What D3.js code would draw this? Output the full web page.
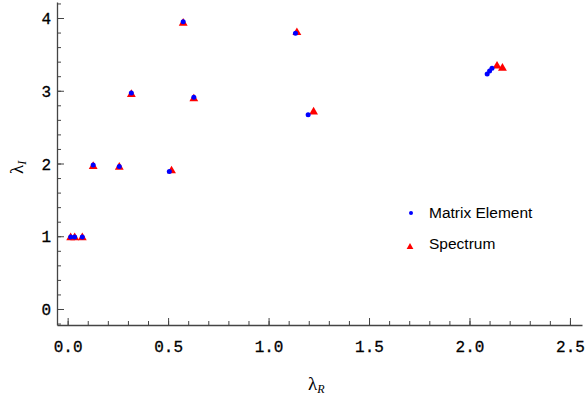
<!DOCTYPE html>
<html>
<head>
<meta charset="utf-8">
<script src="https://cdn.jsdelivr.net/npm/d3@7"></script>
<style>
  body { margin: 0; background: #fff; }
  svg { display: block; }
</style>
</head>
<body>
<svg id="chart" width="588" height="397"></svg>
<script>
// Matrix Element points (blue)
const matrixR = [0.015, 0.035, 0.073, 0.127, 0.257, 0.506, 0.317, 0.628, 0.575, 1.134, 1.197, 2.088, 2.100, 2.112];
const matrixI = [0.99, 0.99, 0.99, 1.98, 1.96, 1.89, 2.97, 2.91, 3.95, 3.79, 2.67, 3.23, 3.27, 3.31];
// Spectrum points (red)
const spectrumR = [0.015, 0.035, 0.073, 0.127, 0.257, 0.517, 0.317, 0.628, 0.575, 1.141, 1.224, 2.137, 2.164];
const spectrumI = [0.98, 0.98, 0.98, 1.96, 1.95, 1.90, 2.95, 2.89, 3.93, 3.80, 2.71, 3.34, 3.31];

const xTicks = [0, 0.5, 1.0, 1.5, 2.0, 2.5];
const yTicks = [0, 1, 2, 3, 4];
const legendLabels = ['Matrix Element', 'Spectrum'];

const svg = d3.select('#chart');
const axisColor = '#444';

const x = d3.scaleLinear().domain([-0.053, 2.56]).range([57, 582]);
const y = d3.scaleLinear().domain([-0.22, 4.22]).range([325, 2]);

// minor ticks
const xMinor = d3.range(0, 26).map(i => i / 10);
const yMinor = d3.range(-1, 22).map(i => i / 5);

const gx = svg.append('g').attr('transform', 'translate(0,325)');
gx.call(d3.axisBottom(x).tickValues(xMinor).tickSizeInner(-4).tickSizeOuter(0).tickFormat(''));
gx.call(g => g.selectAll('.tick line').attr('stroke', axisColor));
gx.append('g').call(d3.axisBottom(x).tickValues(xTicks).tickSizeInner(-7).tickSizeOuter(0)
    .tickFormat(d3.format('.1f')))
  .call(g => g.select('.domain').remove())
  .call(g => g.selectAll('.tick line').attr('stroke', axisColor))
  .call(g => g.selectAll('.tick text')
    .attr('y', 27).attr('dy', 0)
    .style('font-family', '"Liberation Mono", monospace')
    .style('font-size', '16px').attr('fill', '#000')
    .attr('stroke', '#000').attr('stroke-width', 0.3));
gx.select('.domain').attr('stroke', axisColor).attr('stroke-width', 1.3);

const gy = svg.append('g').attr('transform', 'translate(57,0)');
gy.call(d3.axisLeft(y).tickValues(yMinor).tickSizeInner(-4).tickSizeOuter(0).tickFormat(''));
gy.call(g => g.selectAll('.tick line').attr('stroke', axisColor));
gy.append('g').call(d3.axisLeft(y).tickValues(yTicks).tickSizeInner(-7).tickSizeOuter(0)
    .tickFormat(d3.format('d')))
  .call(g => g.select('.domain').remove())
  .call(g => g.selectAll('.tick line').attr('stroke', axisColor))
  .call(g => g.selectAll('.tick text')
    .attr('x', -6).attr('dy', '0.35em')
    .style('font-family', '"Liberation Mono", monospace')
    .style('font-size', '16px').attr('fill', '#000')
    .attr('stroke', '#000').attr('stroke-width', 0.3));
gy.select('.domain').attr('stroke', axisColor).attr('stroke-width', 1.3);

// axis titles
const xt = svg.append('text').attr('x', 308).attr('y', 390)
  .style('font-family', '"Liberation Serif", serif').style('font-size', '19px');
xt.append('tspan').text('λ');
xt.append('tspan').attr('dy', 3).style('font-size', '12px').style('font-style', 'italic').text('R');

const yt = svg.append('text').attr('transform', 'translate(23,174) rotate(-90)')
  .style('font-family', '"Liberation Serif", serif').style('font-size', '19px');
yt.append('tspan').text('λ');
yt.append('tspan').attr('dy', 3).style('font-size', '12px').style('font-style', 'italic').text('I');

// points
const tri = d3.symbol().type(d3.symbolTriangle).size(34);
svg.append('g').selectAll('path')
  .data(d3.zip(spectrumR, spectrumI))
  .join('path')
  .attr('d', tri)
  .attr('transform', d => `translate(${x(d[0])},${y(d[1])})`)
  .attr('fill', '#f00');

svg.append('g').selectAll('circle')
  .data(d3.zip(matrixR, matrixI))
  .join('circle')
  .attr('cx', d => x(d[0]))
  .attr('cy', d => y(d[1]))
  .attr('r', 2.5)
  .attr('fill', '#00f');

// legend
const legend = svg.append('g')
  .style('font-family', '"Liberation Sans", Arial, sans-serif').style('font-size', '15.5px');
legend.append('circle').attr('cx', 411).attr('cy', 213).attr('r', 2).attr('fill', '#00f');
legend.append('text').attr('x', 429).attr('y', 218).text(legendLabels[0]);
legend.append('path').attr('d', d3.symbol().type(d3.symbolTriangle).size(20))
  .attr('transform', 'translate(410,247)').attr('fill', '#f00');
legend.append('text').attr('x', 429).attr('y', 249).text(legendLabels[1]);
</script>
</body>
</html>
